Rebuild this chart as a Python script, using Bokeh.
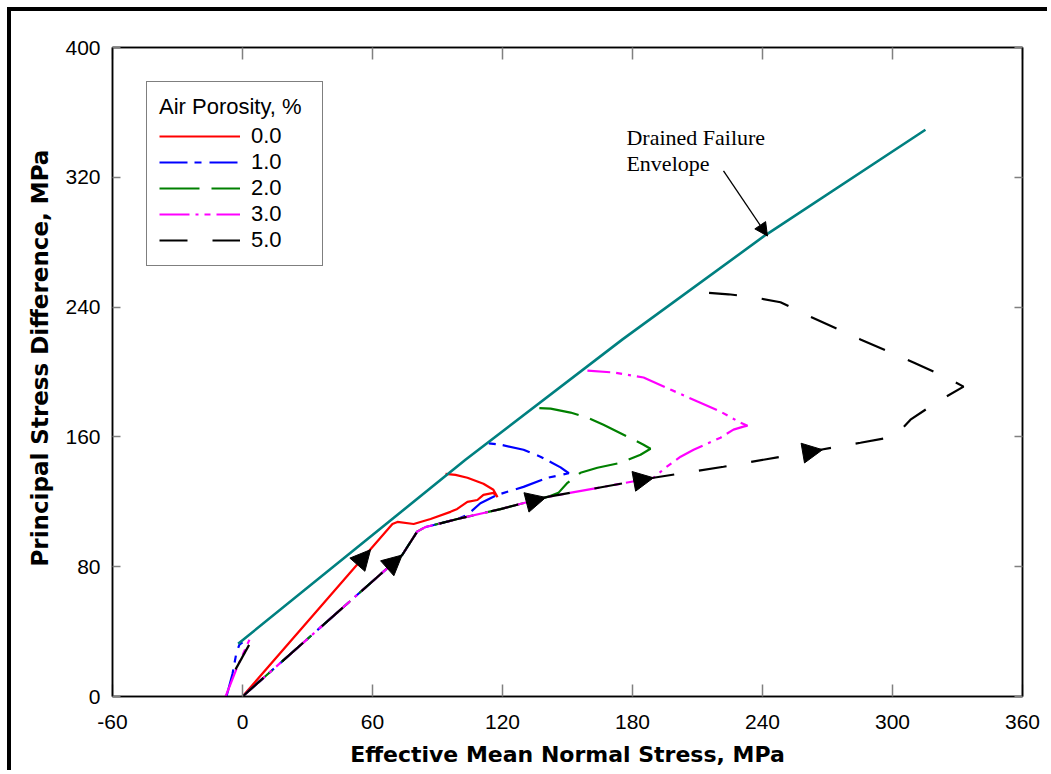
from bokeh.plotting import figure
from bokeh.models import (Legend, LegendItem, LinearAxis, FixedTicker, Range1d, Arrow,
                          NormalHead, CustomJSTickFormatter, Label, ColumnDataSource, Title)
from bokeh.embed import file_html
from bokeh.resources import INLINE

# ---------------- data ----------------
x_ticks = [-60, 0, 60, 120, 180, 240, 300, 360]
y_ticks = [0, 80, 160, 240, 320, 400]

# drained failure envelope
env_x = [-2.0, 102.9, 175.4, 241.4, 315.2]
env_y = [32.5, 145.9, 220.1, 284.4, 349.3]

# 0.0 % air porosity
a0_x = [0.0, 69.2, 71.5, 79.0, 86.8, 96.0, 99.1, 103.8, 108.4, 111.2, 115.8, 117.7,
        115.8, 111.2, 103.8, 98.3, 93.7]
a0_y = [0.0, 106.3, 107.6, 106.3, 109.4, 113.8, 115.6, 120.0, 121.1, 124.3, 125.5, 123.0,
        127.4, 131.1, 134.8, 136.6, 137.2]

# 1.0 %
a1_x = [0.0, 73.7, 80.6, 84.5, 88.3, 99.2, 103.7, 109.8, 117.7, 129.7, 140.8, 150.6,
        146.8, 137.5, 129.7, 119.1, 111.2]
a1_y = [0.0, 87.2, 101.6, 104.5, 105.7, 109.4, 111.9, 119.1, 124.3, 129.2, 134.8, 137.6,
        141.2, 147.8, 152.1, 155.2, 156.4]
a1_init_x = [-7.4, -4.6, -2.8, -1.4, 0.0]
a1_init_y = [0.0, 14.0, 27.0, 32.0, 33.4]

# 2.0 %
a2_x = [0.0, 73.7, 80.6, 84.5, 88.3, 99.2, 119.1, 140.8, 145.8, 150.0, 156.0, 163.8,
        174.5, 183.7, 188.3, 185.1, 177.7, 166.6, 159.2, 151.4, 142.2, 132.9]
a2_y = [0.0, 87.2, 101.6, 104.5, 105.7, 109.4, 115.5, 123.0, 125.5, 131.7, 137.9, 141.0,
        144.0, 149.0, 152.7, 155.2, 160.1, 167.5, 171.9, 175.0, 177.4, 178.1]

# 3.0 %
a3_x = [0.0, 73.7, 80.6, 84.5, 88.3, 99.2, 119.1, 140.8, 189.7, 195.2, 202.2, 208.2,
        220.6, 226.6, 231.2, 233.1, 229.8, 220.6, 210.0, 197.5, 185.1, 171.2, 159.2]
a3_y = [0.0, 87.2, 101.6, 104.5, 105.7, 109.4, 115.5, 123.0, 134.8, 141.0, 147.8, 152.1,
        159.5, 164.5, 166.3, 166.9, 168.8, 175.6, 181.8, 189.2, 196.6, 199.7, 200.9]
a3_init_x = [-7.8, -2.5, 3.2]
a3_init_y = [0.0, 18.0, 35.0]

# 5.0 %
a5_x = [0.0, 73.7, 80.6, 84.5, 88.3, 99.2, 119.1, 140.8, 189.7, 222.0, 266.8, 285.2,
        300.5, 303.0, 308.3, 320.8, 332.8, 323.1, 309.7, 285.2, 260.8, 248.3, 235.8,
        224.3, 211.4]
a5_y = [0.0, 87.2, 101.6, 104.5, 105.7, 109.4, 115.5, 123.0, 134.8, 141.6, 152.1, 156.4,
        160.1, 163.0, 170.6, 181.8, 191.0, 197.8, 205.9, 220.1, 234.9, 243.0, 246.1,
        247.9, 249.2]
a5_init_x = [-3.2, 3.7]
a5_init_y = [16.7, 33.4]

# direction arrows on the stress paths (start -> tip)
arr_x0 = [40.0, 36.9, 119.1, 140.8, 222.0]
arr_y0 = [61.4, 43.6, 115.5, 123.0, 141.6]
arr_x1 = [59.1, 73.7, 140.0, 189.7, 267.7]
arr_y1 = [90.5, 87.2, 122.7, 134.8, 152.1]

legend_labels = ["0.0", "1.0", "2.0", "3.0", "5.0"]

# ---------------- figure ----------------
# the figure sits 11 px in from the page's top-left corner, behind a thick black border
p = figure(width=1040, height=763, x_range=Range1d(-60, 360), y_range=Range1d(0, 400),
           output_backend="svg", toolbar_location=None,
           min_border_left=101, min_border_right=29, min_border_top=36, min_border_bottom=78)
p.margin = (7, 0, 0, 7)
p.styles = {"border-top": "4px solid black", "border-left": "4px solid black"}
p.xgrid.visible = False
p.ygrid.visible = False
p.outline_line_color = "black"
p.outline_line_width = 1.5
p.background_fill_color = "white"
p.border_fill_color = "white"

TICK_FONT = "Liberation Sans"
LABEL_FONT = "DejaVu Sans"
fmt = CustomJSTickFormatter(code="return tick.toFixed(0)")

xa = p.xaxis[0]
xa.ticker = FixedTicker(ticks=x_ticks)
xa.formatter = fmt
xa.axis_label = "Effective Mean Normal Stress, MPa"
ya = p.yaxis[0]
ya.ticker = FixedTicker(ticks=y_ticks)
ya.formatter = fmt

for ax, tin in ((xa, 12), (ya, 8)):
    ax.major_tick_in = tin
    ax.major_tick_out = 0
    ax.minor_tick_line_color = None
    ax.major_tick_line_color = "#808080"
    ax.major_tick_line_width = 1.5
    ax.axis_line_color = "black"
    ax.axis_line_width = 1.5
    ax.major_label_text_font = TICK_FONT
    ax.major_label_text_font_size = "21px"
    ax.major_label_text_color = "black"
    ax.axis_label_text_font = LABEL_FONT
    ax.axis_label_text_font_size = "22px"
    ax.axis_label_text_font_style = "bold"
    ax.axis_label_text_color = "black"
xa.major_label_standoff = 18
xa.axis_label_standoff = 10
ya.major_label_standoff = 12

# y-axis title: placed as a left-side title so it can sit a little above centre
ylab = dict(text="Principal Stress Difference, MPa", align="left", offset=130,
            text_font=LABEL_FONT, text_font_size="23px", text_font_style="bold",
            text_color="black")
try:
    ytitle = Title(standoff=20, **ylab)
except Exception:
    ytitle = Title(**ylab)
p.add_layout(ytitle, "left")

blank = CustomJSTickFormatter(code="return ''")
top_ax = LinearAxis(ticker=FixedTicker(ticks=x_ticks), formatter=blank,
                    major_tick_in=12, major_tick_out=0, minor_tick_line_color=None,
                    major_tick_line_color="#808080", major_tick_line_width=1.5,
                    axis_line_color="black", axis_line_width=1.5, major_label_standoff=0)
right_ax = LinearAxis(ticker=FixedTicker(ticks=y_ticks), formatter=blank,
                      major_tick_in=8, major_tick_out=0, minor_tick_line_color=None,
                      major_tick_line_color="#808080", major_tick_line_width=1.5,
                      axis_line_color="black", axis_line_width=1.5, major_label_standoff=0)
p.add_layout(top_ax, "above")
p.add_layout(right_ax, "right")

LW = 2.2
r0 = p.line(a0_x, a0_y, line_color="#ff0000", line_width=LW)
r1 = p.line(a1_x, a1_y, line_color="#0000ff", line_width=LW, line_dash="28 7 7 8")
p.line(a1_init_x, a1_init_y, line_color="#0000ff", line_width=LW, line_dash="28 7 7 8")
r2 = p.line(a2_x, a2_y, line_color="#008000", line_width=LW, line_dash="40 12")
r3 = p.line(a3_x, a3_y, line_color="#ff00ff", line_width=LW, line_dash="30 6 3 6 6 6")
p.line(a3_init_x, a3_init_y, line_color="#ff00ff", line_width=LW, line_dash="30 6 3 6 6 6")
r5 = p.line(a5_x, a5_y, line_color="black", line_width=LW, line_dash="28 25")
p.line(a5_init_x, a5_init_y, line_color="black", line_width=LW, line_dash="28 25")
p.line(env_x, env_y, line_color="#008080", line_width=2.6)

arr_src = ColumnDataSource(data=dict(x0=arr_x0, y0=arr_y0, x1=arr_x1, y1=arr_y1))
p.add_layout(Arrow(x_start="x0", y_start="y0", x_end="x1", y_end="y1", source=arr_src,
                   line_alpha=0, line_width=0,
                   end=NormalHead(size=20, fill_color="black", line_color="black", line_width=1)))

# annotation for the failure envelope
p.add_layout(Arrow(x_start=222.0, y_start=324.0, x_end=242.3, y_end=283.8,
                   line_color="black", line_width=1.3,
                   end=NormalHead(size=13, fill_color="black", line_color="black", line_width=1)))
p.add_layout(Label(x=177.2, y=344.3, text="Drained Failure", text_font="Liberation Serif",
                   text_font_size="22px", text_color="black", text_baseline="alphabetic"))
p.add_layout(Label(x=177.2, y=328.3, text="Envelope", text_font="Liberation Serif",
                   text_font_size="22px", text_color="black", text_baseline="alphabetic"))

legend = Legend(items=[LegendItem(label=lab, renderers=[r]) for lab, r in
                       zip(legend_labels, [r0, r1, r2, r3, r5])],
                location="top_left", title="Air Porosity, %",
                title_text_font=TICK_FONT, title_text_font_size="22px",
                title_text_font_style="normal", title_text_color="black",
                label_text_font=TICK_FONT, label_text_font_size="22px", label_text_color="black",
                glyph_width=81, glyph_height=22, label_height=22, label_width=59,
                spacing=0, padding=12, margin=34, label_standoff=11, title_standoff=3,
                border_line_color="black", border_line_width=1.5, background_fill_alpha=1)
p.add_layout(legend)

open("out.html", "w").write(file_html(p, INLINE))
